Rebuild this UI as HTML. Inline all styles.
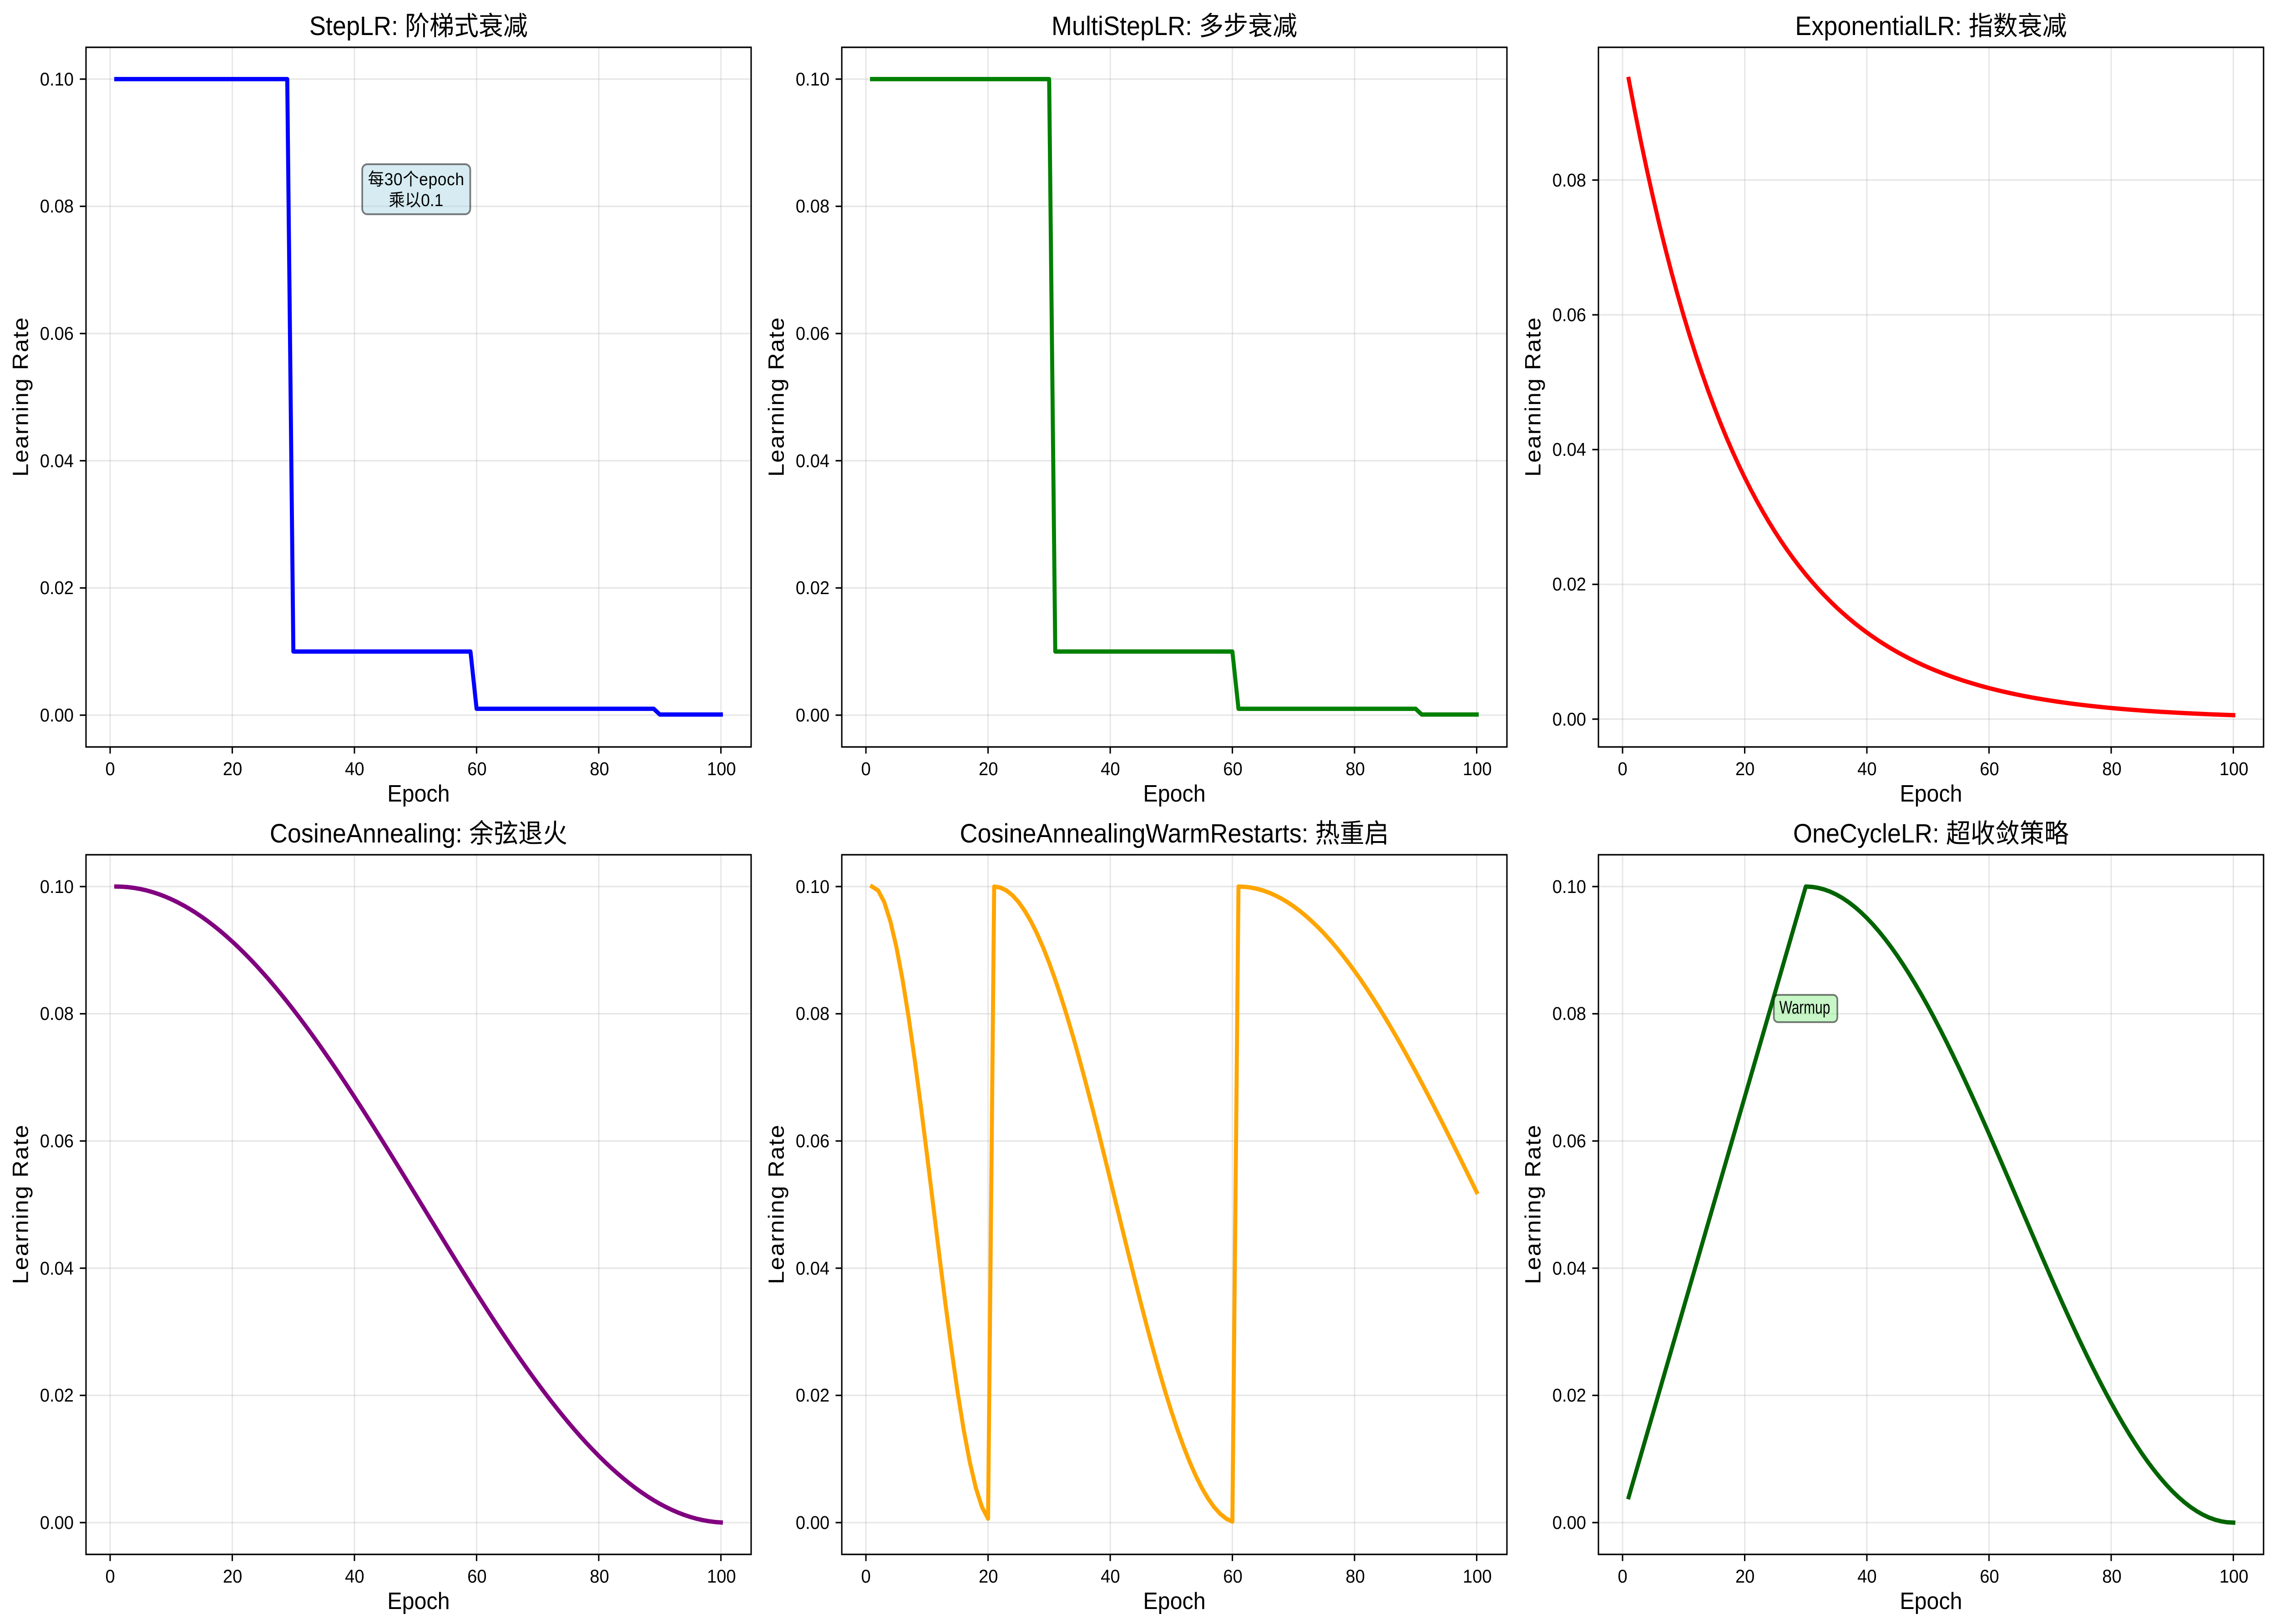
<!DOCTYPE html>
<html><head><meta charset="utf-8"><style>
html,body{margin:0;padding:0;background:#fff;overflow:hidden;width:100vw;height:100vh;}
svg{display:block;position:absolute;left:0;top:0;width:100vw;height:100vh;}
text{font-family:"Liberation Sans","Noto Sans CJK SC",sans-serif;fill:#000;}
.t{font-size:58px;text-anchor:middle;}
.xt{font-size:41px;text-anchor:middle;}
.yt{font-size:41px;text-anchor:end;}
.xl{font-size:52px;text-anchor:middle;}
.yl{font-size:52px;text-anchor:middle;}
</style></head><body>
<svg id="fig" viewBox="0 0 5370 3570" preserveAspectRatio="none" xmlns="http://www.w3.org/2000/svg">
<rect width="5370" height="3570" fill="#fff"/>

<g transform="translate(203,104)">
<g id="p0"></g>
<text class="t" x="785" y="-27">StepLR: 阶梯式衰减</text>
<text class="xt" x="57" y="1600">0</text><text class="xt" x="346" y="1600">20</text><text class="xt" x="634" y="1600">40</text><text class="xt" x="923" y="1600">60</text><text class="xt" x="1212" y="1600">80</text><text class="xt" x="1500" y="1600">100</text>
<text class="xl" x="785" y="1658">Epoch</text>
<text class="yl" transform="translate(-137,769) rotate(-90)" textLength="350">Learning Rate</text>
<text class="yt" x="-29" y="84">0.10</text><text class="yt" x="-29" y="363">0.08</text><text class="yt" x="-29" y="643">0.06</text><text class="yt" x="-29" y="923">0.04</text><text class="yt" x="-29" y="1202">0.02</text><text class="yt" x="-29" y="1482">0.00</text>
<rect x="652" y="257" width="255" height="110" rx="12" fill="#add8e6" fill-opacity="0.5" stroke="#000" stroke-opacity="0.5" stroke-width="4"/>
<text x="779" y="303" style="font-size:38px;text-anchor:middle" textLength="227">每30个epoch</text>
<text x="779" y="349" style="font-size:38px;text-anchor:middle">乘以0.1</text>
</g>

<g transform="translate(1987,104)">
<g id="p1"></g>
<text class="t" x="785" y="-27">MultiStepLR: 多步衰减</text>
<text class="xt" x="57" y="1600">0</text><text class="xt" x="346" y="1600">20</text><text class="xt" x="634" y="1600">40</text><text class="xt" x="923" y="1600">60</text><text class="xt" x="1212" y="1600">80</text><text class="xt" x="1500" y="1600">100</text>
<text class="xl" x="785" y="1658">Epoch</text>
<text class="yl" transform="translate(-137,769) rotate(-90)" textLength="350">Learning Rate</text>
<text class="yt" x="-29" y="84">0.10</text><text class="yt" x="-29" y="363">0.08</text><text class="yt" x="-29" y="643">0.06</text><text class="yt" x="-29" y="923">0.04</text><text class="yt" x="-29" y="1202">0.02</text><text class="yt" x="-29" y="1482">0.00</text>
</g>

<g transform="translate(3773,104)">
<g id="p2"></g>
<text class="t" x="785" y="-27">ExponentialLR: 指数衰减</text>
<text class="xt" x="57" y="1600">0</text><text class="xt" x="346" y="1600">20</text><text class="xt" x="634" y="1600">40</text><text class="xt" x="923" y="1600">60</text><text class="xt" x="1212" y="1600">80</text><text class="xt" x="1500" y="1600">100</text>
<text class="xl" x="785" y="1658">Epoch</text>
<text class="yl" transform="translate(-137,769) rotate(-90)" textLength="350">Learning Rate</text>
<text class="yt" x="-29" y="306">0.08</text><text class="yt" x="-29" y="602">0.06</text><text class="yt" x="-29" y="898">0.04</text><text class="yt" x="-29" y="1194">0.02</text><text class="yt" x="-29" y="1491">0.00</text>
</g>

<g transform="translate(203,1879)">
<g id="p3"></g>
<text class="t" x="785" y="-27">CosineAnnealing: 余弦退火</text>
<text class="xt" x="57" y="1600">0</text><text class="xt" x="346" y="1600">20</text><text class="xt" x="634" y="1600">40</text><text class="xt" x="923" y="1600">60</text><text class="xt" x="1212" y="1600">80</text><text class="xt" x="1500" y="1600">100</text>
<text class="xl" x="785" y="1658">Epoch</text>
<text class="yl" transform="translate(-137,769) rotate(-90)" textLength="350">Learning Rate</text>
<text class="yt" x="-29" y="84">0.10</text><text class="yt" x="-29" y="363">0.08</text><text class="yt" x="-29" y="643">0.06</text><text class="yt" x="-29" y="923">0.04</text><text class="yt" x="-29" y="1202">0.02</text><text class="yt" x="-29" y="1482">0.00</text>
</g>

<g transform="translate(1987,1879)">
<g id="p4"></g>
<text class="t" x="785" y="-27">CosineAnnealingWarmRestarts: 热重启</text>
<text class="xt" x="57" y="1600">0</text><text class="xt" x="346" y="1600">20</text><text class="xt" x="634" y="1600">40</text><text class="xt" x="923" y="1600">60</text><text class="xt" x="1212" y="1600">80</text><text class="xt" x="1500" y="1600">100</text>
<text class="xl" x="785" y="1658">Epoch</text>
<text class="yl" transform="translate(-137,769) rotate(-90)" textLength="350">Learning Rate</text>
<text class="yt" x="-29" y="84">0.10</text><text class="yt" x="-29" y="363">0.08</text><text class="yt" x="-29" y="643">0.06</text><text class="yt" x="-29" y="923">0.04</text><text class="yt" x="-29" y="1202">0.02</text><text class="yt" x="-29" y="1482">0.00</text>
</g>

<g transform="translate(3773,1879)">
<g id="p5"></g>
<text class="t" x="785" y="-27">OneCycleLR: 超收敛策略</text>
<text class="xt" x="57" y="1600">0</text><text class="xt" x="346" y="1600">20</text><text class="xt" x="634" y="1600">40</text><text class="xt" x="923" y="1600">60</text><text class="xt" x="1212" y="1600">80</text><text class="xt" x="1500" y="1600">100</text>
<text class="xl" x="785" y="1658">Epoch</text>
<text class="yl" transform="translate(-137,769) rotate(-90)" textLength="350">Learning Rate</text>
<text class="yt" x="-29" y="84">0.10</text><text class="yt" x="-29" y="363">0.08</text><text class="yt" x="-29" y="643">0.06</text><text class="yt" x="-29" y="923">0.04</text><text class="yt" x="-29" y="1202">0.02</text><text class="yt" x="-29" y="1482">0.00</text>
<rect x="414" y="308" width="150" height="60" rx="10" fill="#90ee90" fill-opacity="0.5" stroke="#000" stroke-opacity="0.5" stroke-width="4"/>
<text x="427" y="349" style="font-size:40px" textLength="120" lengthAdjust="spacingAndGlyphs">Warmup</text>
</g>
</svg>
<script>
(function(){
var W=1570,H=1538;
function X(x){return (x+3.95)/108.9*W;}
var PI=Math.PI;
var fns=[
 function(e){return 0.1*Math.pow(0.1,Math.floor(e/30));},
 function(e){return 0.1*Math.pow(0.1,Math.floor((e-1)/30));},
 function(e){return 0.1*Math.pow(0.95,e);},
 function(e){return 0.05*(1+Math.cos(PI*(e-1)/100));},
 function(e){var t=e-1;if(t<20)return 0.05*(1+Math.cos(PI*t/20));if(t<60)return 0.05*(1+Math.cos(PI*(t-20)/40));return 0.05*(1+Math.cos(PI*(t-60)/80));},
 function(e){if(e<=30)return 0.004+0.096*(e-1)/29;return 0.05*(1+Math.cos(PI*(e-30)/70));}
];
var cols=["#0000ff","#008000","#ff0000","#800080","#ffa500","#006400"];
var ylims=[[-0.005,0.105],[-0.005,0.105],[-0.00413,0.0997],[-0.005,0.105],[-0.005,0.105],[-0.005,0.105]];
for(var p=0;p<6;p++){
 var g=document.getElementById("p"+p);
 var lo=ylims[p][0],hi=ylims[p][1];
 var Y=function(v){return (hi-v)/(hi-lo)*H;};
 var s="";
 [0,20,40,60,80,100].forEach(function(x){var px=X(x);s+='<line x1="'+px+'" y1="0" x2="'+px+'" y2="'+H+'" stroke="#b0b0b0" stroke-opacity="0.3" stroke-width="3.3"/>';
  s+='<line x1="'+px+'" y1="'+H+'" x2="'+px+'" y2="'+(H+14.6)+'" stroke="#000" stroke-width="3.3"/>';});
 var yt=p==2?[0,0.02,0.04,0.06,0.08]:[0,0.02,0.04,0.06,0.08,0.1];
 yt.forEach(function(v){var py=Y(v);s+='<line x1="0" y1="'+py+'" x2="'+W+'" y2="'+py+'" stroke="#b0b0b0" stroke-opacity="0.3" stroke-width="3.3"/>';
  s+='<line x1="-14.6" y1="'+py+'" x2="0" y2="'+py+'" stroke="#000" stroke-width="3.3"/>';});
 var d="";
 for(var e=1;e<=100;e++){d+=(e==1?"M":"L")+X(e).toFixed(2)+" "+Y(fns[p](e)).toFixed(2);}
 s+='<path d="'+d+'" fill="none" stroke="'+cols[p]+'" stroke-width="9.5" stroke-linejoin="round" stroke-linecap="square"/>';
 s+='<rect x="0" y="0" width="'+W+'" height="'+H+'" fill="none" stroke="#000" stroke-width="3.3"/>';
 g.innerHTML=s;
}
})();
</script>
</body></html>
